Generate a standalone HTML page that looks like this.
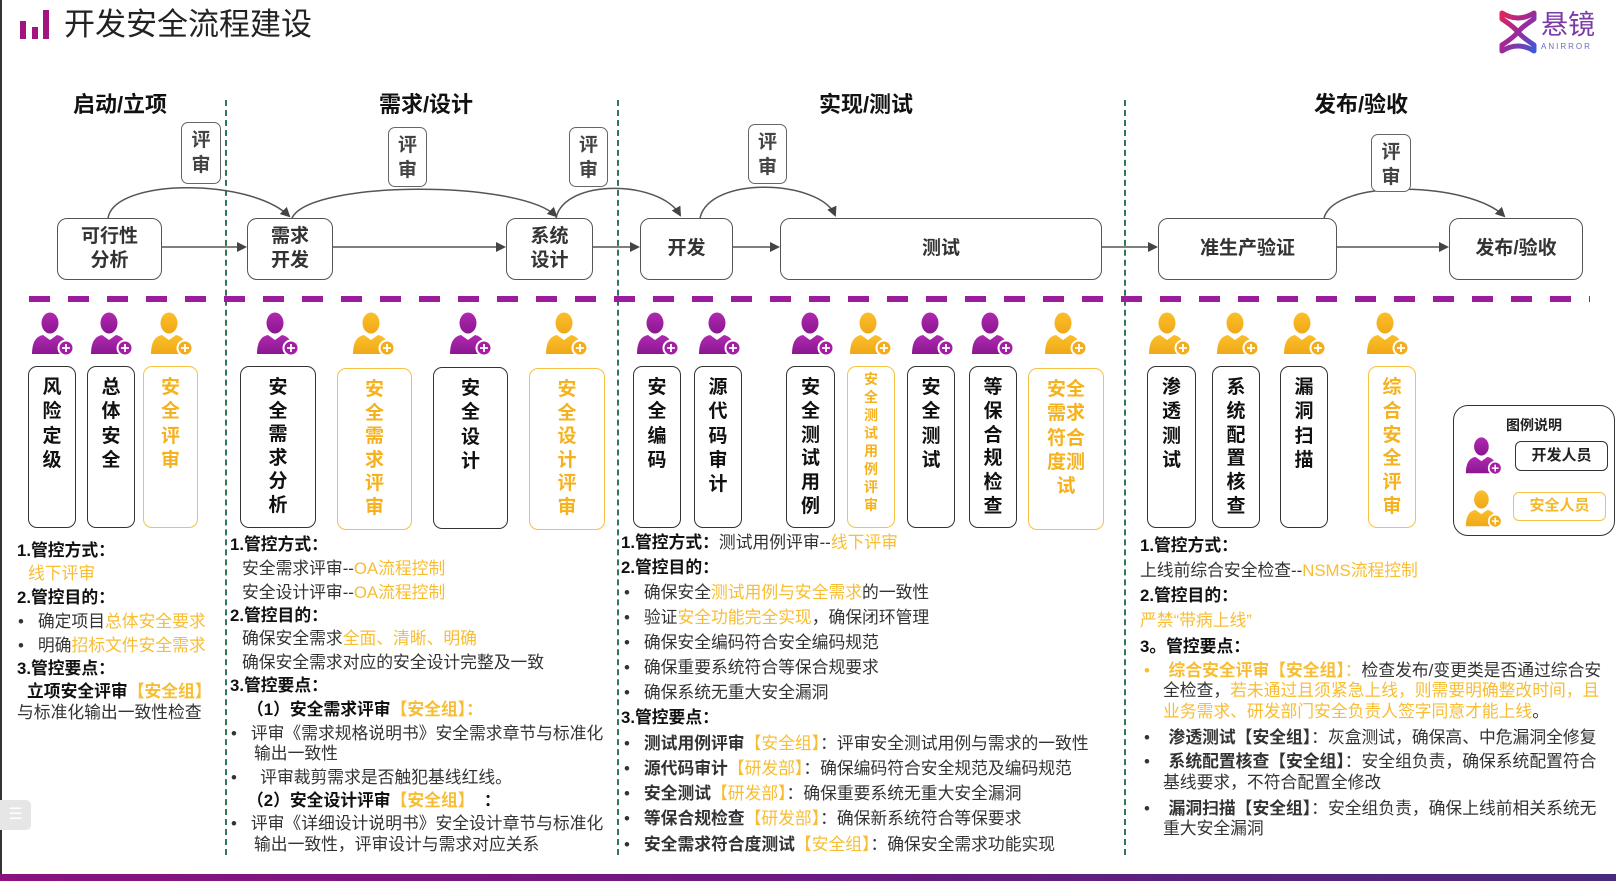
<!DOCTYPE html>
<html><head><meta charset="utf-8">
<style>
*{margin:0;padding:0;box-sizing:border-box}
body{width:1616px;height:881px;overflow:hidden;background:#fff;position:relative;font-family:"Liberation Sans","Noto Sans CJK SC",sans-serif;color:#222}
.a{position:absolute}
.t{position:absolute;font-size:16.8px;line-height:22px;white-space:nowrap;color:#333}
.b{font-weight:bold;color:#111}
.o{color:#f8bd32}
.ph{position:absolute;font-size:22px;font-weight:bold;color:#111;transform:translateX(-50%);top:87px}
.box{position:absolute;border:1.5px solid #555;border-radius:10px;background:#fff;display:flex;align-items:center;justify-content:center;font-size:19px;font-weight:bold;color:#333;text-align:center;line-height:24px}
.rv{position:absolute;border:1.5px solid #666;border-radius:7px;background:#fff;font-size:19px;font-weight:bold;color:#444;text-align:center;line-height:25px;padding-top:5px}
.vb{position:absolute;top:366px;height:162px;border:1.6px solid #333;border-radius:9px;background:#fff;font-size:19px;font-weight:bold;color:#111;text-align:center;line-height:24.3px;padding-top:9px}
.vo{border-color:#f5c243;color:#f6b21e}
.gl{position:absolute;top:100px;height:755px;width:0;border-left:2px dashed #2f7a55}
.pi{position:absolute;top:312px}
</style></head><body>
<div class="a" style="left:0;top:0;width:2px;height:881px;background:#333"></div>
<div class="a" style="left:0;top:874px;width:1616px;height:7px;background:linear-gradient(90deg,#8a137e,#6a1a80,#4a2a7a)"></div>
<div class="a" style="left:0;top:800px;width:31px;height:30px;background:#e6e6e6;border-radius:0 5px 5px 0;color:#fff;font-size:16px;text-align:center;line-height:30px">☰</div>

<div class="a" style="left:20px;top:21px;width:6px;height:18px;background:#a0157f"></div>
<div class="a" style="left:32px;top:27px;width:6px;height:12px;background:#a0157f"></div>
<div class="a" style="left:43px;top:10px;width:6px;height:29px;background:#a0157f"></div>
<div class="a" style="left:64px;top:5px;font-size:31px;color:#222;line-height:40px">开发安全流程建设</div>

<svg class="a" style="left:1498px;top:9px" width="40" height="46" viewBox="0 0 40 46"><defs><linearGradient id="lg" x1="0" y1="0" x2="1" y2="1"><stop offset="0" stop-color="#e0245a"/><stop offset=".5" stop-color="#9b2a9a"/><stop offset="1" stop-color="#3b5bd6"/></linearGradient></defs><path d="M4 4 Q20 14 36 4 L36 10 Q24 18 20 23 Q24 28 36 36 L36 42 Q20 32 4 42 L4 36 Q16 28 20 23 Q16 18 4 10Z" fill="none" stroke="url(#lg)" stroke-width="5" stroke-linejoin="round"/></svg>
<div class="a" style="left:1541px;top:8px;font-size:27px;color:#7a3aa8;line-height:34px">悬镜</div>
<div class="a" style="left:1541px;top:42px;font-size:8px;color:#6a6ac0;letter-spacing:2px">ANIRROR</div>

<div class="ph" style="left:120px">启动/立项</div>
<div class="ph" style="left:426px">需求/设计</div>
<div class="ph" style="left:866px">实现/测试</div>
<div class="ph" style="left:1361px">发布/验收</div>

<div class="gl" style="left:225px"></div>
<div class="gl" style="left:617px"></div>
<div class="gl" style="left:1124px"></div>

<svg class="a" style="left:0;top:0" width="1616" height="310">
<defs><marker id="ar" markerWidth="10" markerHeight="10" refX="8" refY="5" orient="auto" markerUnits="userSpaceOnUse"><path d="M0,0 L10,5 L0,10Z" fill="#444"/></marker></defs>
<g stroke="#555" stroke-width="1.5" fill="none" marker-end="url(#ar)">
<path d="M162,247 H245"/><path d="M333,247 H504"/><path d="M593,247 H638"/><path d="M733,247 H778"/><path d="M1102,247 H1156"/><path d="M1337,247 H1447"/>
<path d="M108,218 C115,178 250,178 289,216"/>
<path d="M292,218 C310,180 520,180 556,216"/>
<path d="M556,218 C565,178 660,180 680,215"/>
<path d="M700,218 C710,175 820,180 835,215"/>
<path d="M1324,218 C1335,178 1470,182 1504,216"/>
</g>
<line x1="29" y1="299" x2="1590" y2="299" stroke="#9b1c9c" stroke-width="6" stroke-dasharray="21 18"/>
</svg>

<div class="rv" style="left:181px;top:122px;width:40px;height:62px">评<br>审</div>
<div class="rv" style="left:388px;top:127px;width:39px;height:60px">评<br>审</div>
<div class="rv" style="left:569px;top:127px;width:39px;height:60px">评<br>审</div>
<div class="rv" style="left:748px;top:124px;width:39px;height:60px">评<br>审</div>
<div class="rv" style="left:1371px;top:134px;width:40px;height:58px">评<br>审</div>

<div class="box" style="left:57px;top:218px;width:105px;height:62px">可行性<br>分析</div>
<div class="box" style="left:247px;top:218px;width:86px;height:62px">需求<br>开发</div>
<div class="box" style="left:506px;top:218px;width:87px;height:62px">系统<br>设计</div>
<div class="box" style="left:640px;top:218px;width:93px;height:62px">开发</div>
<div class="box" style="left:780px;top:218px;width:322px;height:62px">测试</div>
<div class="box" style="left:1158px;top:218px;width:179px;height:62px">准生产验证</div>
<div class="box" style="left:1449px;top:218px;width:134px;height:62px">发布/验收</div>

<svg width="0" height="0" style="position:absolute"><defs>
<linearGradient id="gp" x1="0" y1="0" x2="0" y2="1"><stop offset="0" stop-color="#b02ab0"/><stop offset="1" stop-color="#8a1690"/></linearGradient>
<linearGradient id="go" x1="0" y1="0" x2="0" y2="1"><stop offset="0" stop-color="#fbbf2a"/><stop offset="1" stop-color="#f0a818"/></linearGradient>
<symbol id="pp" viewBox="0 0 44 44"><ellipse cx="19" cy="11" rx="8.5" ry="10.5" fill="url(#gp)"/><path d="M1 42 Q1 25 12 23 L19 28 L26 23 Q37 25 37 42Z" fill="url(#gp)"/><circle cx="35" cy="36" r="7.5" fill="#a21fa4" stroke="#fff" stroke-width="2"/><path d="M31 36H39M35 32V40" stroke="#fff" stroke-width="1.8"/></symbol>
<symbol id="po" viewBox="0 0 44 44"><ellipse cx="19" cy="11" rx="8.5" ry="10.5" fill="url(#go)"/><path d="M1 42 Q1 25 12 23 L19 28 L26 23 Q37 25 37 42Z" fill="url(#go)"/><circle cx="35" cy="36" r="7.5" fill="#f2ac1c" stroke="#fff" stroke-width="2"/><path d="M31 36H39M35 32V40" stroke="#fff" stroke-width="1.8"/></symbol>
</defs></svg>
<svg class="pi" style="left:31px" width="44" height="44"><use href="#pp"/></svg>
<svg class="pi" style="left:90px" width="44" height="44"><use href="#pp"/></svg>
<svg class="pi" style="left:150px" width="44" height="44"><use href="#po"/></svg>
<svg class="pi" style="left:256px" width="44" height="44"><use href="#pp"/></svg>
<svg class="pi" style="left:352px" width="44" height="44"><use href="#po"/></svg>
<svg class="pi" style="left:449px" width="44" height="44"><use href="#pp"/></svg>
<svg class="pi" style="left:545px" width="44" height="44"><use href="#po"/></svg>
<svg class="pi" style="left:636px" width="44" height="44"><use href="#pp"/></svg>
<svg class="pi" style="left:698px" width="44" height="44"><use href="#pp"/></svg>
<svg class="pi" style="left:791px" width="44" height="44"><use href="#pp"/></svg>
<svg class="pi" style="left:849px" width="44" height="44"><use href="#po"/></svg>
<svg class="pi" style="left:911px" width="44" height="44"><use href="#pp"/></svg>
<svg class="pi" style="left:971px" width="44" height="44"><use href="#pp"/></svg>
<svg class="pi" style="left:1044px" width="44" height="44"><use href="#po"/></svg>
<svg class="pi" style="left:1148px" width="44" height="44"><use href="#po"/></svg>
<svg class="pi" style="left:1216px" width="44" height="44"><use href="#po"/></svg>
<svg class="pi" style="left:1283px" width="44" height="44"><use href="#po"/></svg>
<svg class="pi" style="left:1366px" width="44" height="44"><use href="#po"/></svg>

<div class="vb" style="left:28px;width:48px">风<br>险<br>定<br>级</div>
<div class="vb" style="left:87px;width:48px">总<br>体<br>安<br>全</div>
<div class="vb vo" style="left:143px;width:55px">安<br>全<br>评<br>审</div>
<div class="vb" style="left:240px;width:76px;line-height:23.6px">安<br>全<br>需<br>求<br>分<br>析</div>
<div class="vb vo" style="left:337px;width:75px;top:368px;line-height:23.6px">安<br>全<br>需<br>求<br>评<br>审</div>
<div class="vb" style="left:433px;width:75px;top:367px">安<br>全<br>设<br>计</div>
<div class="vb vo" style="left:529px;width:76px;top:368px;line-height:23.6px">安<br>全<br>设<br>计<br>评<br>审</div>
<div class="vb" style="left:633px;width:48px">安<br>全<br>编<br>码</div>
<div class="vb" style="left:694px;width:48px">源<br>代<br>码<br>审<br>计</div>
<div class="vb" style="left:786px;width:49px;line-height:23.8px">安<br>全<br>测<br>试<br>用<br>例</div>
<div class="vb vo" style="left:847px;width:48px;font-size:14px;line-height:18px;padding-top:3px">安<br>全<br>测<br>试<br>用<br>例<br>评<br>审</div>
<div class="vb" style="left:907px;width:48px">安<br>全<br>测<br>试</div>
<div class="vb" style="left:969px;width:48px;line-height:23.8px">等<br>保<br>合<br>规<br>检<br>查</div>
<div class="vb vo" style="left:1028px;width:76px;top:368px">安全<br>需求<br>符合<br>度测<br>试</div>
<div class="vb" style="left:1147px;width:49px">渗<br>透<br>测<br>试</div>
<div class="vb" style="left:1212px;width:48px;line-height:23.8px">系<br>统<br>配<br>置<br>核<br>查</div>
<div class="vb" style="left:1280px;width:48px">漏<br>洞<br>扫<br>描</div>
<div class="vb vo" style="left:1368px;width:48px;line-height:23.8px">综<br>合<br>安<br>全<br>评<br>审</div>

<div class="a" style="left:1453px;top:405px;width:162px;height:131px;border:1.6px solid #333;border-radius:15px"></div>
<div class="a" style="left:1453px;top:415px;width:162px;text-align:center;font-size:14px;font-weight:bold">图例说明</div>
<svg class="a" style="left:1465px;top:437px" width="38" height="38"><use href="#pp"/></svg>
<svg class="a" style="left:1465px;top:490px" width="38" height="38"><use href="#po"/></svg>
<div class="a" style="left:1515px;top:441px;width:93px;height:30px;border:1.5px solid #333;border-radius:6px;font-size:15px;font-weight:bold;text-align:center;line-height:27px">开发人员</div>
<div class="a" style="left:1513px;top:492px;width:93px;height:29px;border:1.5px solid #f5c243;border-radius:6px;font-size:15px;font-weight:bold;color:#f6b826;text-align:center;line-height:26px">安全人员</div>

<div class="t b" style="left:17px;top:540px">1.管控方式：</div>
<div class="t o" style="left:28px;top:563px">线下评审</div>
<div class="t b" style="left:17px;top:587px">2.管控目的：</div>
<div class="t" style="left:18px;top:611px">•&nbsp;&nbsp;&nbsp;确定项目<span class="o">总体安全要求</span></div>
<div class="t" style="left:18px;top:635px">•&nbsp;&nbsp;&nbsp;明确<span class="o">招标文件安全需求</span></div>
<div class="t b" style="left:17px;top:658px">3.管控要点：</div>
<div class="t b" style="left:27px;top:681px">立项安全评审<span class="o">【安全组】</span></div>
<div class="t" style="left:17px;top:702px">与标准化输出一致性检查</div>

<div class="t b" style="left:230px;top:534px">1.管控方式：</div>
<div class="t" style="left:242px;top:558px">安全需求评审--<span class="o">OA流程控制</span></div>
<div class="t" style="left:242px;top:582px">安全设计评审--<span class="o">OA流程控制</span></div>
<div class="t b" style="left:230px;top:605px">2.管控目的：</div>
<div class="t" style="left:242px;top:628px">确保安全需求<span class="o">全面、清晰、明确</span></div>
<div class="t" style="left:242px;top:652px">确保安全需求对应的安全设计完整及一致</div>
<div class="t b" style="left:230px;top:675px">3.管控要点：</div>
<div class="t b" style="left:247px;top:699px">（1）安全需求评审<span class="o">【安全组】：</span></div>
<div class="t" style="left:231px;top:723px">•&nbsp;&nbsp;&nbsp;评审《需求规格说明书》安全需求章节与标准化</div>
<div class="t" style="left:254px;top:743px">输出一致性</div>
<div class="t" style="left:231px;top:767px">•&nbsp;&nbsp;&nbsp;&nbsp;&nbsp;评审裁剪需求是否触犯基线红线。</div>
<div class="t b" style="left:247px;top:790px">（2）安全设计评审<span class="o">【安全组】</span>&nbsp;&nbsp;：</div>
<div class="t" style="left:231px;top:813px">•&nbsp;&nbsp;&nbsp;评审《详细设计说明书》安全设计章节与标准化</div>
<div class="t" style="left:254px;top:834px">输出一致性，评审设计与需求对应关系</div>

<div class="t" style="left:621px;top:532px"><span class="b">1.管控方式：</span>测试用例评审--<span class="o">线下评审</span></div>
<div class="t b" style="left:621px;top:557px">2.管控目的：</div>
<div class="t" style="left:624px;top:582px">•&nbsp;&nbsp;&nbsp;确保安全<span class="o">测试用例与安全需求</span>的一致性</div>
<div class="t" style="left:624px;top:607px">•&nbsp;&nbsp;&nbsp;验证<span class="o">安全功能完全实现</span>，确保闭环管理</div>
<div class="t" style="left:624px;top:632px">•&nbsp;&nbsp;&nbsp;确保安全编码符合安全编码规范</div>
<div class="t" style="left:624px;top:657px">•&nbsp;&nbsp;&nbsp;确保重要系统符合等保合规要求</div>
<div class="t" style="left:624px;top:682px">•&nbsp;&nbsp;&nbsp;确保系统无重大安全漏洞</div>
<div class="t b" style="left:621px;top:707px">3.管控要点：</div>
<div class="t" style="left:624px;top:733px">•&nbsp;&nbsp;&nbsp;<b>测试用例评审</b><span class="o">【安全组】</span>：评审安全测试用例与需求的一致性</div>
<div class="t" style="left:624px;top:758px">•&nbsp;&nbsp;&nbsp;<b>源代码审计</b><span class="o">【研发部】</span>：确保编码符合安全规范及编码规范</div>
<div class="t" style="left:624px;top:783px">•&nbsp;&nbsp;&nbsp;<b>安全测试</b><span class="o">【研发部】</span>：确保重要系统无重大安全漏洞</div>
<div class="t" style="left:624px;top:808px">•&nbsp;&nbsp;&nbsp;<b>等保合规检查</b><span class="o">【研发部】</span>：确保新系统符合等保要求</div>
<div class="t" style="left:624px;top:834px">•&nbsp;&nbsp;&nbsp;<b>安全需求符合度测试</b><span class="o">【安全组】</span>：确保安全需求功能实现</div>

<div class="t b" style="left:1140px;top:535px">1.管控方式：</div>
<div class="t" style="left:1140px;top:560px">上线前综合安全检查--<span class="o">NSMS流程控制</span></div>
<div class="t b" style="left:1140px;top:585px">2.管控目的：</div>
<div class="t o" style="left:1140px;top:610px">严禁“带病上线”</div>
<div class="t b" style="left:1140px;top:636px">3。管控要点：</div>
<div class="t" style="left:1144px;top:660px"><span class="o">•&nbsp;&nbsp;&nbsp;&nbsp;<b>综合安全评审【安全组】</b>：</span>检查发布/变更类是否通过综合安</div>
<div class="t" style="left:1163px;top:680px">全检查，<span class="o">若未通过且须紧急上线，则需要明确整改时间，且</span></div>
<div class="t" style="left:1163px;top:701px"><span class="o">业务需求、研发部门安全负责人签字同意才能上线</span>。</div>
<div class="t" style="left:1144px;top:727px">•&nbsp;&nbsp;&nbsp;&nbsp;<b>渗透测试【安全组】</b>：灰盒测试，确保高、中危漏洞全修复</div>
<div class="t" style="left:1144px;top:751px">•&nbsp;&nbsp;&nbsp;&nbsp;<b>系统配置核查【安全组】</b>：安全组负责，确保系统配置符合</div>
<div class="t" style="left:1163px;top:772px">基线要求，不符合配置全修改</div>
<div class="t" style="left:1144px;top:798px">•&nbsp;&nbsp;&nbsp;&nbsp;<b>漏洞扫描【安全组】</b>：安全组负责，确保上线前相关系统无</div>
<div class="t" style="left:1163px;top:818px">重大安全漏洞</div>
</body></html>
